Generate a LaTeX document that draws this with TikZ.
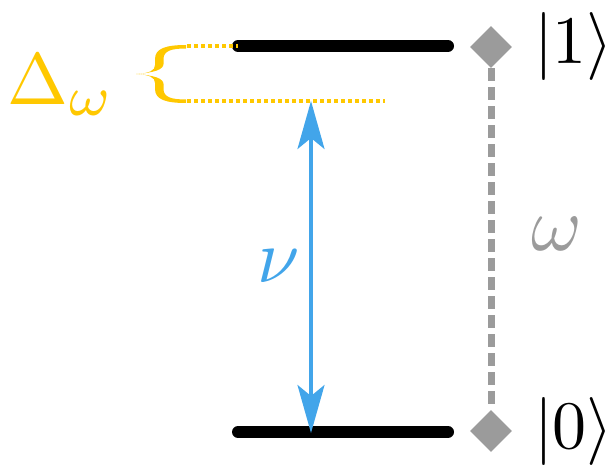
\documentclass[tikz,border=0pt]{standalone}
\usepackage{graphicx}
\usetikzlibrary{arrows.meta,shapes.geometric}
\definecolor{gold}{RGB}{255,200,0}
\definecolor{skyblue}{RGB}{66,165,234}
\definecolor{midgray}{RGB}{155,155,155}
\tikzset{
  level/.style={line width=12pt, line cap=round, black},
  dotyel/.style={gold, line width=3.6pt, dash pattern=on 3.6pt off 3.4pt},
  dia/.style={diamond, fill=midgray, draw=none, minimum width=42pt, minimum height=42pt, inner sep=0pt},
  dashgray/.style={midgray, line width=7pt, dash pattern=on 12.7pt off 6.3pt},
  nuarrow/.style={skyblue, line width=3.3pt, {Stealth[length=48pt,width=27pt,inset=11pt]}-{Stealth[length=48pt,width=27pt,inset=11pt]}},
  lbl/.style={inner sep=0pt, outer sep=0pt}
}
\begin{document}
\begin{tikzpicture}[x=1pt,y=-1pt]
\useasboundingbox (0,0) rectangle (605,468);
% levels
\coordinate (t1) at (238,46);
\coordinate (t2) at (448,46);
\coordinate (b1) at (238,432);
\coordinate (b2) at (448,432);
\draw[level] (t1) -- (t2);
\draw[level] (b1) -- (b2);
% diamonds and dashed line
\node[dia] (d1) at (491,47) {};
\node[dia] (d0) at (491,431) {};
\draw[dashgray] (d1.south) -- (d0.north);
% kets
\node[lbl, anchor=west] (k1) at (534,47) {\scalebox{6.8}{$|1\rangle$}};
\node[lbl, anchor=west] (k0) at (534,431) {\scalebox{6.8}{$|0\rangle$}};
\node[lbl, midgray] (om) at (557,234) {\scalebox{7.7}{$\omega$}};
% yellow dotted lines
\coordinate (ya) at (187,46);
\coordinate (yb) at (187,101);
\coordinate (yc) at (385,101);
\draw[dotyel] (ya) -- (t1);
\draw[dotyel] (yb) -- (yc);
% brace
\fill[gold] (186,45) .. controls (167,45) and (155,48) .. (155,59) -- (155,65)
  .. controls (155,70.5) and (150,73.2) .. (136,74)
  .. controls (150,74.8) and (155,77.5) .. (155,83) -- (155,89)
  .. controls (155,100) and (167,103) .. (186,103) -- (186,99.5)
  .. controls (171,99.5) and (163.5,97) .. (163.5,89) -- (163.5,84)
  .. controls (163.5,78.5) and (154,75.2) .. (136,74)
  .. controls (154,72.8) and (163.5,69.5) .. (163.5,64) -- (163.5,59)
  .. controls (163.5,51) and (171,48.5) .. (186,48.5) -- cycle;
% Delta omega label
\node[lbl, gold, anchor=base west] (dw) at (8,105) {\scalebox{7.3}{$\Delta_{\scalebox{1.1}{$\scriptstyle\omega$}}$}};
% nu arrow
\coordinate (atop) at (311,101);
\coordinate (abot) at (311,433);
\draw[nuarrow] (abot) -- (atop);
\node[lbl, skyblue] (nu) at (279,266) {\scalebox{7.6}{$\nu$}};
\end{tikzpicture}
\end{document}
